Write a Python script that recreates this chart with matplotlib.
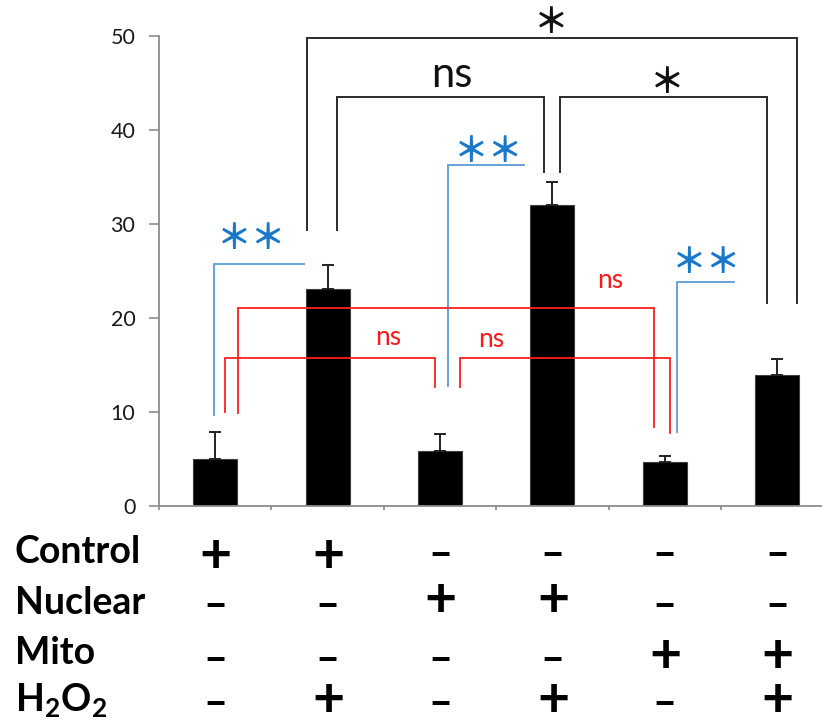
import matplotlib
matplotlib.use("Agg")
import matplotlib.pyplot as plt
from matplotlib import transforms

# ---- data ----
groups = [0, 1, 2, 3, 4, 5]
values = [4.9, 23.1, 5.8, 32.0, 4.6, 13.9]
errors = [2.9, 2.5, 1.85, 2.5, 0.7, 1.7]
yticks = [0, 10, 20, 30, 40, 50]

row_labels = ["Control", "Nuclear", "Mito", r"$\mathbf{H_2O_2}$"]
control = ["+", "+", "–", "–", "–", "–"]
nuclear = ["–", "–", "+", "+", "–", "–"]
mito = ["–", "–", "–", "–", "+", "+"]
h2o2 = ["–", "+", "–", "+", "–", "+"]
table_rows = [control, nuclear, mito, h2o2]

# brackets: (x1, x2, y, left_bottom, right_bottom or None)
black_brackets = [
    (0.82, 5.173, 49.82, 29.34, 21.53),
    (1.081, 2.925, 43.54, 29.34, 35.55),
    (3.065, 4.907, 43.54, 35.55, 21.53),
]
blue_brackets = [
    (-0.007, 0.787, 25.72, 9.64, None),
    (2.075, 2.747, 36.26, 12.73, None),
    (4.112, 4.616, 23.77, 7.86, None),
]
red_brackets = [
    (0.206, 3.904, 21.07, 9.82, 8.39),
    (0.087, 1.956, 15.74, 9.93, 12.65),
    (2.178, 4.046, 15.74, 12.65, 7.75),
]
black_labels = [("＊", 2.994, 51.4), ("ns", 2.104, 45.85), ("＊", 4.023, 45.0)]
blue_labels = [("＊＊", 0.325, 28.4), ("＊＊", 2.43, 37.68), ("＊＊", 4.373, 25.83)]
red_labels = [("ns", 3.51, 24.0), ("ns", 1.541, 17.94), ("ns", 2.451, 17.73)]

plt.rcParams["font.family"] = ["Lato", "DejaVu Sans"]
plt.rcParams["mathtext.fontset"] = "custom"
plt.rcParams["mathtext.bf"] = "Lato:bold"
plt.rcParams["mathtext.rm"] = "Lato"

fig = plt.figure(figsize=(8.22, 7.26), dpi=100)
W, H = 822.0, 726.0
ax = fig.add_axes([159 / W, 1 - 505.5 / H, 674.4 / W, 469.5 / H])

ax.bar(groups, values, width=0.39, color="black", edgecolor="#404040", linewidth=0.8,
       yerr=[[0] * len(errors), errors],
       error_kw=dict(ecolor="#222222", elinewidth=1.4, capsize=4.6, capthick=1.4))

ax.set_xlim(-0.5, 5.5)
ax.set_ylim(0, 50)
ax.set_yticks(yticks)
ax.set_yticklabels([str(t) for t in yticks], fontsize=15.5, color="#1a1a1a")
ax.set_xticks([g - 0.5 for g in groups] + [5.5])
ax.set_xticklabels([])
for s in ["top", "right"]:
    ax.spines[s].set_visible(False)
for s in ["left", "bottom"]:
    ax.spines[s].set_color("#8c8c8c")
    ax.spines[s].set_linewidth(1.3)
ax.tick_params(axis="y", direction="out", length=7, width=1.2, color="#8c8c8c", pad=10)
ax.tick_params(axis="x", direction="out", length=3, width=1.2, color="#8c8c8c")


def bracket(spec, color, lw):
    x1, x2, y, lb, rb = spec
    xs = [x1, x1, x2]
    ys = [lb, y, y]
    if rb is not None:
        xs.append(x2)
        ys.append(rb)
    ax.plot(xs, ys, color=color, lw=lw, clip_on=False, solid_joinstyle="miter")


for b in black_brackets:
    bracket(b, "#2b2b2b", 1.4)
for b in blue_brackets:
    bracket(b, "#5b9bd5", 1.3)
for b in red_brackets:
    bracket(b, "#ff2020", 1.3)

star_font = ["Noto Sans CJK JP", "DejaVu Sans"]
for txt, x, y in black_labels:
    if txt == "ns":
        ax.text(x, y, txt, ha="center", va="center", fontsize=30, color="#111111")
    else:
        ax.text(x, y, txt, ha="center", va="center", fontsize=25, color="#111111",
                family=star_font, fontweight="bold")
for txt, x, y in blue_labels:
    ax.text(x, y, txt, ha="center", va="center", fontsize=25, color="#1a78c8",
            family=star_font, fontweight="bold")
for txt, x, y in red_labels:
    ax.text(x, y, txt, ha="center", va="center", fontsize=19, color="#ff1a1a")

# condition table below the axis
trans = transforms.blended_transform_factory(ax.transData, fig.transFigure)
row_y_px = [552, 603, 653, 700]
plus_y_px = [555, 600, 656, 699]
minus_y_px = [555, 606, 660, 704]
for label, ypx, py, my, signs in zip(row_labels, row_y_px, plus_y_px, minus_y_px, table_rows):
    fig.text(15 / W, 1 - ypx / H, label, ha="left", va="center", fontsize=27,
             fontweight="bold", color="black")
    for g, s in zip(groups, signs):
        if s == "+":
            ax.text(g, 1 - py / H, r"$\mathbf{+}$", transform=trans, ha="center",
                    va="center", fontsize=40, color="black", clip_on=False)
        else:
            ax.text(g, 1 - my / H, s, transform=trans, ha="center",
                    va="center", fontsize=30, fontweight="bold", color="black",
                    clip_on=False)

fig.savefig("out.png", dpi=100)
